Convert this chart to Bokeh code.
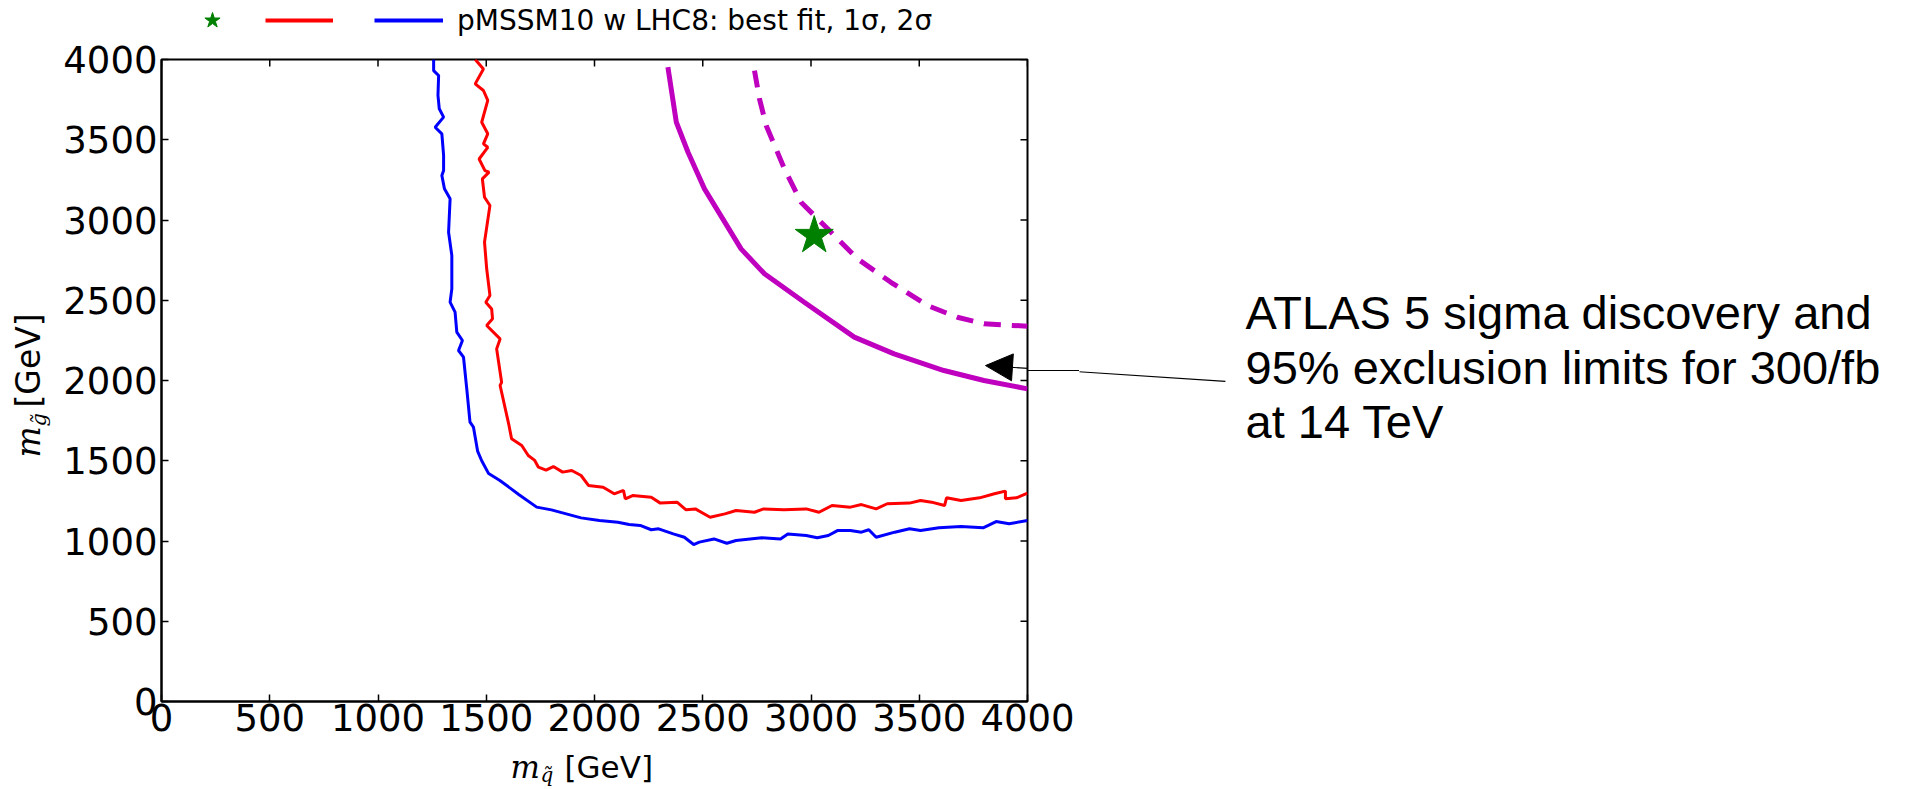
import math
from bokeh.plotting import figure
from bokeh.layouts import column, row
from bokeh.models import (Label, Arrow, NormalHead, LinearAxis, FixedTicker,
                          Legend, LegendItem, Range1d, CustomJSTickFormatter)
from bokeh.embed import file_html
from bokeh.resources import INLINE

# ---------------- data ----------------
ticks = [0, 500, 1000, 1500, 2000, 2500, 3000, 3500, 4000]

# 2 sigma contour (blue)
blue_x = [1257, 1257, 1280, 1277, 1283, 1303, 1264, 1295, 1303, 1303, 1295, 1307,
          1333, 1326, 1341, 1341, 1333, 1356, 1364, 1390, 1372, 1395, 1410, 1425,
          1441, 1460, 1479, 1511, 1563, 1650, 1733, 1801, 1938, 2023, 2108, 2160,
          2211, 2262, 2296, 2364, 2415, 2458, 2484, 2552, 2611, 2654, 2773, 2859,
          2893, 2978, 3029, 3080, 3122, 3182, 3233, 3267, 3301, 3387, 3455, 3506,
          3591, 3693, 3795, 3855, 3915, 4000]
blue_y = [4000, 3931, 3900, 3776, 3693, 3641, 3578, 3537, 3402, 3308, 3277, 3194,
          3132, 2924, 2779, 2571, 2488, 2426, 2301, 2249, 2187, 2145, 1948, 1740,
          1709, 1560, 1500, 1420, 1377, 1290, 1211, 1194, 1144, 1128, 1117, 1103,
          1097, 1070, 1076, 1044, 1023, 978, 993, 1013, 986, 1003, 1020, 1013,
          1044, 1034, 1020, 1034, 1065, 1065, 1055, 1070, 1023, 1055, 1076, 1065,
          1082, 1090, 1082, 1121, 1107, 1128]

# 1 sigma contour (red)
red_x = [1449, 1487, 1449, 1487, 1507, 1479, 1507, 1487, 1507, 1467, 1494, 1513,
         1482, 1492, 1517, 1492, 1502, 1517, 1498, 1525, 1529, 1502, 1564, 1548,
         1571, 1564, 1605, 1617, 1664, 1694, 1724, 1741, 1776, 1810, 1853, 1895,
         1938, 1972, 2040, 2091, 2134, 2142, 2176, 2262, 2304, 2381, 2423, 2466,
         2534, 2602, 2654, 2739, 2781, 2875, 2978, 3037, 3097, 3182, 3233, 3301,
         3352, 3455, 3506, 3557, 3617, 3626, 3693, 3779, 3847, 3898, 3898, 3949, 4000]
red_y = [4000, 3941, 3848, 3807, 3745, 3609, 3537, 3474, 3453, 3380, 3308, 3298,
         3256, 3142, 3090, 2862, 2696, 2530, 2488, 2446, 2384, 2343, 2259, 2197,
         1989, 1969, 1720, 1637, 1595, 1533, 1502, 1460, 1442, 1464, 1429, 1439,
         1408, 1346, 1335, 1294, 1315, 1263, 1283, 1273, 1236, 1242, 1194, 1200,
         1148, 1169, 1190, 1179, 1200, 1194, 1200, 1179, 1221, 1211, 1227, 1200,
         1232, 1236, 1252, 1242, 1221, 1269, 1252, 1269, 1294, 1311, 1263, 1269, 1298]

# ATLAS 95% exclusion (solid) and 5 sigma discovery (dashed), 300/fb at 14 TeV
excl_x = [2339, 2378, 2432, 2508, 2677, 2785, 2969, 3200, 3384, 3614, 3799, 4000]
excl_y = [3952, 3609, 3422, 3194, 2820, 2665, 2488, 2270, 2166, 2062, 2000, 1948]

disc_x = [2739, 2762, 2793, 2877, 2954, 3077, 3215, 3369, 3538, 3676, 3799, 4000]
disc_y = [3931, 3755, 3589, 3319, 3111, 2945, 2758, 2612, 2467, 2394, 2353, 2338]

best_x = [3015]
best_y = [2903]

legend_text = "pMSSM10 w LHC8: best fit, 1σ, 2σ"
note_lines = ["ATLAS 5 sigma discovery and",
              "95% exclusion limits for 300/fb",
              "at 14 TeV"]
arrow_tail = (4912, 1994)
arrow_tip = (3806, 2093)

# ---------------- page geometry (pixels) ----------------
W, H = 1913, 789
FL, FR, FT, FB = 159, 1027, 59, 701          # plot frame edges
XMIN, XMAX, YMIN, YMAX = 0, 4000, 0, 4000


def dx(px):
    return XMIN + (px - FL) / (FR - FL) * (XMAX - XMIN)


def dy(py):
    return YMIN + (FB - py) / (FB - FT) * (YMAX - YMIN)


MID = 0.346         # baseline -> em-box middle, in em

TOP_H = 37          # legend strip
YLAB_W = 60         # y-label strip
RB = 52             # main figure right border
BB = 46             # main figure bottom border
XLAB_H = H - FB - BB
MAIN_W = (FL - YLAB_W) + (FR - FL) + RB
MAIN_H = (FT - TOP_H) + (FB - FT) + BB
RIGHT_W = W - YLAB_W - MAIN_W


def no_align(f):
    try:
        f.frame_align = False
    except Exception:
        pass
    return f


def blank_fig(w, h, x0, x1, y0, y1):
    f = figure(width=w, height=h, x_range=Range1d(dx(x0), dx(x1)),
               y_range=Range1d(dy(y1), dy(y0)), output_backend="svg",
               toolbar_location=None, x_axis_type=None, y_axis_type=None,
               min_border_left=0, min_border_right=0, min_border_top=0,
               min_border_bottom=0)
    f.grid.visible = False
    f.outline_line_color = None
    return no_align(f)


def text_at(fig, px, baseline_py, txt, size, font="DejaVu Sans", style="normal",
            vertical=False):
    if vertical:
        x, y, ang = dx(baseline_py - MID * size), dy(px), math.pi / 2
    else:
        x, y, ang = dx(px), dy(baseline_py - MID * size), 0
    fig.add_layout(Label(x=x, y=y, text=txt, angle=ang, text_font=font,
                         text_font_style=style, text_font_size=f"{size}px",
                         text_color="black", text_baseline="middle", text_align="left"))


# ---------------- main plot ----------------
p = figure(width=MAIN_W, height=MAIN_H, x_range=Range1d(XMIN, XMAX),
           y_range=Range1d(YMIN, YMAX), output_backend="svg", toolbar_location=None,
           min_border_left=FL - YLAB_W, min_border_right=RB,
           min_border_top=FT - TOP_H, min_border_bottom=BB)
no_align(p)
p.grid.visible = False
p.outline_line_color = "black"
p.outline_line_width = 2

for ax in (p.xaxis[0], p.yaxis[0]):
    ax.ticker = FixedTicker(ticks=ticks)
    ax.major_tick_in = 7
    ax.major_tick_out = 0
    ax.minor_tick_line_color = None
    ax.major_tick_line_width = 1.5
    ax.axis_line_width = 2
    ax.major_label_text_font = "DejaVu Sans"
    ax.major_label_text_font_size = "37px"
    ax.major_label_text_color = "black"
p.xaxis[0].major_label_standoff = 2
p.yaxis[0].major_label_standoff = 4

# inward ticks on the top and right edges
p.scatter([XMAX] * len(ticks), ticks, marker="dash", size=14, line_color="black",
          line_width=1.5)
p.scatter(ticks, [YMAX] * len(ticks), marker="dash", angle=math.pi / 2, size=14,
          line_color="black", line_width=1.5)

p.line(blue_x, blue_y, line_color="#0000ff", line_width=3)
p.line(red_x, red_y, line_color="#ff0000", line_width=3)
p.line(excl_x, excl_y, line_color="#bf00bf", line_width=5)
p.line(disc_x, disc_y, line_color="#bf00bf", line_width=5, line_dash="17 11")
p.scatter(best_x, best_y, marker="star", size=40, fill_color="#008000",
          line_color="#008000")

p.add_layout(Arrow(end=NormalHead(size=27, fill_color="black", line_color="black"),
                   x_start=arrow_tail[0], y_start=arrow_tail[1],
                   x_end=arrow_tip[0], y_end=arrow_tip[1],
                   line_color="black", line_width=1.2))

# bridge the arrow line across the right border with a single outward tick
xm = dx(FR + RB / 2)
ym = arrow_tip[1] + (xm - arrow_tip[0]) * (arrow_tail[1] - arrow_tip[1]) / (arrow_tail[0] - arrow_tip[0])
bridge = LinearAxis(ticker=FixedTicker(ticks=[ym]), major_tick_out=RB, major_tick_in=0,
                    major_tick_line_width=1.2, major_tick_line_color="black",
                    minor_tick_line_color=None, axis_line_color=None,
                    major_label_standoff=0,
                    formatter=CustomJSTickFormatter(code="return ''"))
p.add_layout(bridge, "right")

# ---------------- legend strip ----------------
top = blank_fig(W, TOP_H, 0, W, 0, TOP_H)
t_star = top.scatter(best_x, best_y, marker="star", fill_color="#008000", line_color="#008000")
t_red = top.line(red_x, red_y, line_color="#ff0000", line_width=4)
t_blue = top.line(blue_x, blue_y, line_color="#0000ff", line_width=4)


def add_leg(item, x, gw, standoff):
    lg = Legend(items=[item], location=(x, TOP_H - 40), orientation="horizontal",
                glyph_width=gw, glyph_height=40, label_standoff=standoff,
                padding=0, margin=0, spacing=0, border_line_color=None,
                background_fill_alpha=0, label_text_font="DejaVu Sans",
                label_text_font_size="28px", label_text_color="black")
    top.add_layout(lg)


add_leg(LegendItem(label="", renderers=[t_star]), 192, 40, 0)
add_leg(LegendItem(label="", renderers=[t_red]), 265, 68, 0)
add_leg(LegendItem(label=legend_text, renderers=[t_blue]), 374, 69, 14)

# ---------------- y label strip ----------------
ylab = blank_fig(YLAB_W, H - TOP_H, 0, YLAB_W, TOP_H, H)
text_at(ylab, 457, 39, "m", 33, "DejaVu Serif", "italic", vertical=True)
text_at(ylab, 426, 46, "g̃", 21, "DejaVu Serif", "italic", vertical=True)
text_at(ylab, 407, 39, "[GeV]", 33, vertical=True)

# ---------------- x label strip ----------------
xlab = blank_fig(MAIN_W, XLAB_H, YLAB_W, YLAB_W + MAIN_W, FB + BB, H)
text_at(xlab, 510, 777, "m", 31, "DejaVu Serif", "italic")
text_at(xlab, 540, 781, "q̃", 20, "DejaVu Serif", "italic")
text_at(xlab, 564, 777, "[GeV]", 31)

# ---------------- right text strip ----------------
rt = blank_fig(RIGHT_W, H - TOP_H, YLAB_W + MAIN_W, W, TOP_H, H)
for txt, base in zip(note_lines, [328, 383, 437]):
    text_at(rt, 1245, base, txt, 47, "Liberation Sans")
rt.add_layout(Arrow(end=None, x_start=arrow_tail[0], y_start=arrow_tail[1],
                    x_end=arrow_tip[0], y_end=arrow_tip[1],
                    line_color="black", line_width=1.2))

layout = column(top, row(ylab, column(p, xlab), rt))
open("out.html", "w").write(file_html(layout, INLINE))
